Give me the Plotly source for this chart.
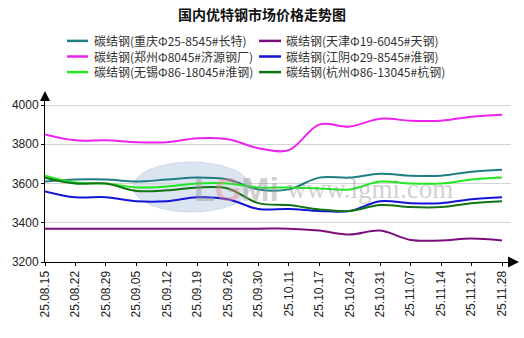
import plotly.graph_objects as go

dates = ["25.08.15", "25.08.22", "25.08.29", "25.09.05", "25.09.12", "25.09.19",
         "25.09.26", "25.09.30", "25.10.11", "25.10.17", "25.10.24", "25.10.31",
         "25.11.07", "25.11.14", "25.11.21", "25.11.28"]

names = ["碳结钢(重庆Φ25-8545#长特)", "碳结钢(天津Φ19-6045#天钢)",
         "碳结钢(郑州Φ8045#济源钢厂)", "碳结钢(江阴Φ29-8545#淮钢)",
         "碳结钢(无锡Φ86-18045#淮钢)", "碳结钢(杭州Φ86-13045#杭钢)"]

chongqing = [3610, 3620, 3620, 3610, 3620, 3630, 3620, 3570, 3570, 3630, 3630, 3650, 3640, 3640, 3660, 3670]
tianjin   = [3370, 3370, 3370, 3370, 3370, 3370, 3370, 3370, 3370, 3360, 3340, 3360, 3312, 3310, 3320, 3310]
zhengzhou = [3850, 3820, 3820, 3810, 3810, 3830, 3825, 3780, 3770, 3900, 3890, 3930, 3920, 3920, 3940, 3950]
jiangyin  = [3560, 3530, 3530, 3510, 3510, 3530, 3520, 3470, 3470, 3460, 3460, 3510, 3500, 3500, 3520, 3530]
wuxi      = [3640, 3605, 3600, 3580, 3585, 3600, 3600, 3580, 3580, 3575, 3570, 3610, 3600, 3600, 3620, 3630]
hangzhou  = [3630, 3600, 3600, 3562, 3565, 3580, 3575, 3500, 3490, 3468, 3460, 3490, 3480, 3480, 3500, 3510]

series = [chongqing, tianjin, zhengzhou, jiangyin, wuxi, hangzhou]
colors = ["#1E7E80", "#7A0E7A", "#EE22EE", "#1414D8", "#22E822", "#137313"]

y_ticks = [3200, 3400, 3600, 3800, 4000]

# layout geometry (pixels)
W, H = 524, 338
L, R, T, B = 45, 13, 100, 76
PW, PH = W - L - R, H - T - B


def px(xp):
    return (xp - L) / PW


def py(yp):
    return (H - B - yp) / PH


fig = go.Figure()

for name, vals, col in zip(names, series, colors):
    fig.add_trace(go.Scatter(
        x=dates, y=vals, name=name, mode="lines",
        line=dict(color=col, width=2, shape="spline", smoothing=1),
        showlegend=False, hoverinfo="x+y+name"))

shapes = []
annotations = []

# watermark logo (behind lines)
shapes.append(dict(type="circle", xref="paper", yref="paper", layer="below",
                   x0=px(133), x1=px(250), y0=py(212), y1=py(162),
                   fillcolor="rgba(175,195,225,0.45)", line=dict(color="rgba(175,195,225,0.5)", width=1)))
annotations.append(dict(
    text=("<b><span style='color:rgba(150,150,150,0.45)'>L</span>"
          "<span style='color:rgba(235,130,140,0.45)'>G</span>"
          "<span style='color:rgba(150,150,150,0.45)'>Mi</span></b>"),
    xref="paper", yref="paper", x=px(192), y=py(189),
    showarrow=False, font=dict(family="Liberation Sans", size=34)))
annotations.append(dict(text="www.lgmi.com", xref="paper", yref="paper", x=px(285), y=py(189),
                        xanchor="left", showarrow=False,
                        font=dict(family="Liberation Serif", size=27,
                                  color="rgba(140,140,140,0.42)")))

# axis arrows
shapes.append(dict(type="path", xref="paper", yref="paper",
                   path=f"M {px(45)} {py(91)} L {px(40)} {py(101)} L {px(50)} {py(101)} Z",
                   fillcolor="black", line=dict(color="black", width=0)))
shapes.append(dict(type="path", xref="paper", yref="paper",
                   path=f"M {px(519)} {py(262)} L {px(508)} {py(256.5)} L {px(508)} {py(267.5)} Z",
                   fillcolor="black", line=dict(color="black", width=0)))

# manual two-column legend (one text block per column)
LS = 12 * 1.3
mid = 56.5
row_y = [mid - LS, mid, mid + LS]
col_line = [(67, 88), (259, 281)]
col_text = [92, 284]
for c in range(2):
    col_names = [names[i] for i in range(len(names)) if i % 2 == c]
    for r, i in enumerate([i for i in range(len(names)) if i % 2 == c]):
        shapes.append(dict(type="line", xref="paper", yref="paper",
                           x0=px(col_line[c][0]), x1=px(col_line[c][1]),
                           y0=py(row_y[r]), y1=py(row_y[r]),
                           line=dict(color=colors[i], width=2.5)))
    annotations.append(dict(text="<br>".join(col_names), xref="paper", yref="paper",
                            x=px(col_text[c]), y=py(mid),
                            xanchor="left", yanchor="middle", align="left", showarrow=False,
                            font=dict(family="Noto Sans CJK SC", size=12, color="#333333")))

fig.update_layout(
    width=W, height=H,
    margin=dict(l=L, r=R, t=T, b=B),
    paper_bgcolor="white", plot_bgcolor="white",
    title=dict(text="<b>国内优特钢市场价格走势图</b>", x=0.5, xref="paper", xanchor="center",
               y=1 - 15 / H, yanchor="middle",
               font=dict(family="Noto Sans CJK SC", size=14, color="#111111")),
    shapes=shapes, annotations=annotations,
    showlegend=False,
)
fig.layout.title.x = (W / 2 - L) / PW

fig.update_xaxes(
    type="category", range=[0, (PW) / ((502 - 45) / 15)],
    tickangle=-90, tickfont=dict(family="Liberation Sans", size=12, color="#222222"),
    showline=True, linecolor="black", linewidth=1,
    ticks="outside", ticklen=3, tickcolor="black",
    showgrid=False, zeroline=False, fixedrange=True,
)

fig.update_yaxes(
    range=[3200, 4000 + 5 * 800 / 157], tickvals=y_ticks,
    tickfont=dict(family="Liberation Sans", size=12, color="#222222"),
    showline=True, linecolor="black", linewidth=1,
    ticks="outside", ticklen=3, tickcolor="black",
    showgrid=True, gridcolor="#D4D4D4", gridwidth=1, zeroline=False,
)

fig.write_html("out.html")
